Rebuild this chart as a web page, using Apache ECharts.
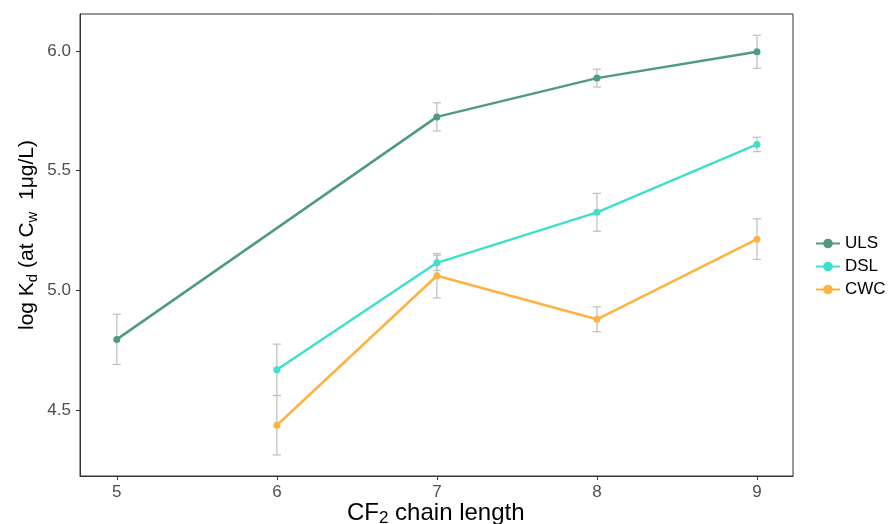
<!DOCTYPE html>
<html>
<head>
<meta charset="utf-8">
<script src="https://cdn.jsdelivr.net/npm/echarts@6/dist/echarts.min.js"></script>
<style>html,body{margin:0;padding:0;background:#fff}#c{width:893px;height:524px}</style>
</head>
<body>
<div id="c"></div>
<script>
const chainLengths = [5, 6, 7, 8, 9];
const ulsValues = [4.795, null, 5.725, 5.887, 5.997];
const ulsErrors = [0.105, null, 0.059, 0.037, 0.069];
const dslValues = [null, 4.668, 5.115, 5.326, 5.610];
const dslErrors = [null, 0.107, 0.032, 0.079, 0.030];
const cwcValues = [null, 4.436, 5.061, 4.879, 5.214];
const cwcErrors = [null, 0.124, 0.093, 0.052, 0.085];
const xTicks = [5, 6, 7, 8, 9];
const yTicks = [4.5, 5.0, 5.5, 6.0];

const colors = {ULS: '#4e9b80', DSL: '#40dfcb', CWC: '#feb242'};

function pts(vals) {
  return chainLengths.map((x, i) => vals[i] == null ? [x, null] : [x, vals[i]]);
}
function errs(vals, e) {
  const out = [];
  chainLengths.forEach((x, i) => {
    if (vals[i] != null && e[i] != null) out.push([x, vals[i] - e[i], vals[i] + e[i]]);
  });
  return out;
}
function errSeries(name, vals, e) {
  return {
    type: 'custom', name: name + '_err', z: 1, silent: true,
    data: errs(vals, e),
    encode: {x: 0, y: [1, 2]},
    renderItem: function (params, api) {
      const x = api.value(0);
      const lo = api.coord([x, api.value(1)]);
      const hi = api.coord([x, api.value(2)]);
      const w = 4;
      const st = {stroke: '#c2c2c2', lineWidth: 1.3};
      return {type: 'group', children: [
        {type: 'line', shape: {x1: lo[0], y1: lo[1], x2: hi[0], y2: hi[1]}, style: st},
        {type: 'line', shape: {x1: lo[0] - w, y1: lo[1], x2: lo[0] + w, y2: lo[1]}, style: st},
        {type: 'line', shape: {x1: hi[0] - w, y1: hi[1], x2: hi[0] + w, y2: hi[1]}, style: st}
      ]};
    }
  };
}
function lineSeries(name, vals) {
  return {
    type: 'line', name: name, z: 3, data: pts(vals), connectNulls: true,
    symbol: 'circle', symbolSize: 7, showSymbol: true,
    lineStyle: {width: 2.5, color: colors[name]},
    itemStyle: {color: colors[name]},
    emphasis: {disabled: true}
  };
}

const chart = echarts.init(document.getElementById('c'), null, {renderer: 'canvas'});
chart.setOption({
  animation: false,
  backgroundColor: '#fff',
  textStyle: {fontFamily: 'Liberation Sans, Arial, sans-serif'},
  grid: {left: 80, right: 100, top: 14, bottom: 48, show: true, borderColor: '#333', borderWidth: 1},
  xAxis: {
    type: 'value', min: 4.77, max: 9.225,
    splitLine: {show: false},
    axisLine: {show: true, onZero: false, lineStyle: {color: '#333', width: 1}},
    axisTick: {show: true, length: 4, lineStyle: {color: '#333'}, customValues: xTicks},
    axisLabel: {color: '#4d4d4d', fontSize: 17, margin: 8, customValues: xTicks, formatter: v => String(v)}
  },
  yAxis: {
    type: 'value', min: 4.224, max: 6.155,
    splitLine: {show: false},
    axisLine: {show: true, onZero: false, lineStyle: {color: '#333', width: 1}},
    axisTick: {show: true, length: 4, lineStyle: {color: '#333'}, customValues: yTicks},
    axisLabel: {color: '#4d4d4d', fontSize: 17, margin: 9, customValues: yTicks, formatter: v => v.toFixed(1)}
  },
  legend: {
    orient: 'vertical', left: 810, top: 230,
    data: ['ULS', 'DSL', 'CWC'],
    itemWidth: 24, itemHeight: 12, itemGap: 6,
    textStyle: {fontSize: 17, color: '#000'}
  },
  graphic: [
    {type: 'text', left: 347, top: 501,
      style: {rich: {n: {fontSize: 24, fill: '#000', fontFamily: 'Liberation Sans, Arial'}, s: {fontSize: 17, fill: '#000', padding: [11, 0, 0, 0], fontFamily: 'Liberation Sans, Arial'}},
        text: '{n|CF}{s|2}{n| chain length}'}},
    {type: 'text', x: 15, y: 330, rotation: Math.PI / 2,
      style: {rich: {n: {fontSize: 21, fill: '#000', fontFamily: 'Liberation Sans, Arial'}, s: {fontSize: 15, fill: '#000', padding: [10, 0, 0, 0], fontFamily: 'Liberation Sans, Arial'}},
        text: '{n|log K}{s|d}{n| (at C}{s|w}{n|  1μg/L)}'}}
  ],
  series: [
    errSeries('ULS', ulsValues, ulsErrors),
    errSeries('DSL', dslValues, dslErrors),
    errSeries('CWC', cwcValues, cwcErrors),
    lineSeries('ULS', ulsValues),
    lineSeries('DSL', dslValues),
    lineSeries('CWC', cwcValues)
  ]
});
</script>
</body>
</html>
